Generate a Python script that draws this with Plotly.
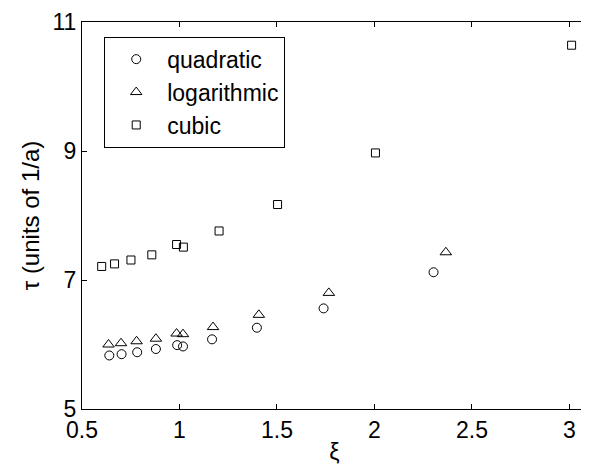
import plotly.graph_objects as go

# quadratic (circles)
xi_quad = [0.640, 0.703, 0.783, 0.879, 0.988, 1.018, 1.167, 1.397, 1.739, 2.303]
tau_quad = [5.83, 5.85, 5.88, 5.93, 5.99, 5.97, 6.08, 6.26, 6.56, 7.12]

# logarithmic (triangles)
xi_log = [0.636, 0.700, 0.780, 0.879, 0.985, 1.018, 1.172, 1.407, 1.766, 2.366]
tau_log = [6.00, 6.02, 6.05, 6.09, 6.17, 6.16, 6.27, 6.46, 6.80, 7.43]

# cubic (squares)
xi_cub = [0.601, 0.667, 0.751, 0.858, 0.985, 1.020, 1.203, 1.503, 2.005, 3.011]
tau_cub = [7.21, 7.25, 7.31, 7.39, 7.55, 7.51, 7.76, 8.17, 8.97, 10.64]

x_ticks = [0.5, 1, 1.5, 2, 2.5, 3]
x_ticklabels = ["0.5", "1", "1.5", "2", "2.5", "3"]
y_ticks = [5, 7, 9, 11]
y_ticklabels = ["5", "7", "9", "11"]

FONT = "Liberation Sans, Arial, Helvetica, sans-serif"

fig = go.Figure()
fig.add_trace(go.Scatter(x=xi_quad, y=tau_quad, mode="markers", name="quadratic",
                         marker=dict(symbol="circle-open", size=9, color="black", line=dict(width=1))))
fig.add_trace(go.Scatter(x=xi_log, y=tau_log, mode="markers", name="logarithmic",
                         marker=dict(symbol="triangle-up-open", size=10, color="black", line=dict(width=1))))
fig.add_trace(go.Scatter(x=xi_cub, y=tau_cub, mode="markers", name="cubic",
                         marker=dict(symbol="square-open", size=8, color="black", line=dict(width=1))))

# the page body has an 8px margin, so the figure is sized to fit the 589x468 window
fig.update_layout(
    width=581, height=460,
    margin=dict(l=74, r=1, t=10, b=59),
    paper_bgcolor="white", plot_bgcolor="white",
    font=dict(family=FONT, size=23, color="black"),
    showlegend=True,
    legend=dict(x=0.044, y=0.962, xanchor="left", yanchor="top",
                bordercolor="black", borderwidth=1, bgcolor="white",
                font=dict(family=FONT, size=23, color="black"),
                itemwidth=52),
    xaxis=dict(range=[0.5, 3.09], tickvals=x_ticks, ticktext=x_ticklabels,
               ticks="inside", ticklen=5, tickcolor="black", showline=True,
               linecolor="black", linewidth=1, mirror="ticks", showgrid=False,
               zeroline=False, tickfont=dict(size=23), ticklabeloverflow="allow",
               title=dict(text="ξ", standoff=2, font=dict(size=23))),
    yaxis=dict(range=[5, 11], tickvals=y_ticks, ticktext=y_ticklabels,
               ticks="inside", ticklen=5, tickcolor="black", showline=True,
               linecolor="black", linewidth=1, mirror="ticks", showgrid=False,
               zeroline=False, tickfont=dict(size=23), ticklabeloverflow="allow",
               title=dict(text="τ (units of 1/a)", standoff=6, font=dict(size=24))),
)

fig.write_html("out.html")
